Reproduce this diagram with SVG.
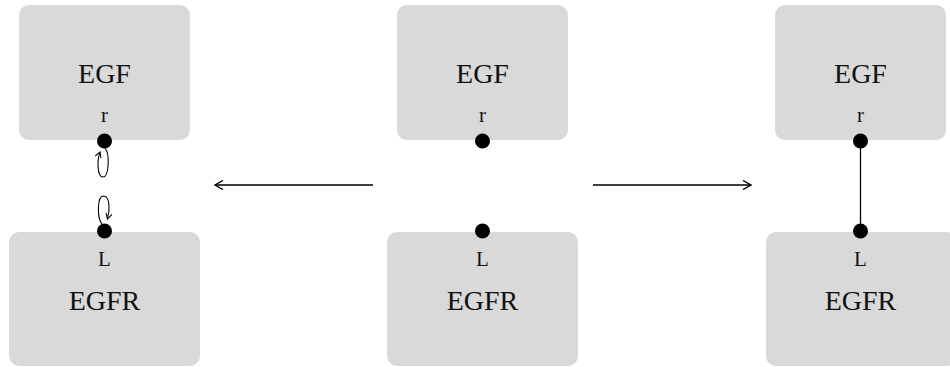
<svg xmlns="http://www.w3.org/2000/svg" width="950" height="367" viewBox="0 0 950 367">
  <defs>
    <style>
      .box { fill: #d9d9d9; }
      .name { font-family: "Liberation Serif", "DejaVu Serif", serif; font-size: 28px; fill: #111; text-anchor: middle; }
      .site { font-family: "Liberation Serif", "DejaVu Serif", serif; font-size: 21px; fill: #111; text-anchor: middle; }
      .dot { fill: #000; }
      .edge { fill: none; stroke: #000; stroke-width: 1.3; }
      .loop { fill: none; stroke: #000; stroke-width: 1.1; }
    </style>
    <marker id="chev" viewBox="0 0 10 10" refX="9" refY="5" markerWidth="10" markerHeight="10" markerUnits="userSpaceOnUse" orient="auto">
      <path d="M1,0.5 L9,5 L1,9.5" fill="none" stroke="#000" stroke-width="1.4"/>
    </marker>
    <marker id="chevs" viewBox="0 0 10 10" refX="9" refY="5" markerWidth="7" markerHeight="7" markerUnits="userSpaceOnUse" orient="auto">
      <path d="M1,0.5 L9,5 L1,9.5" fill="none" stroke="#000" stroke-width="1.5"/>
    </marker>
  </defs>

  <!-- left state: sites about to bind -->
  <g id="egf-left">
    <rect class="box" x="19" y="5" width="171" height="135" rx="10"/>
    <text class="name" x="104.5" y="83">EGF</text>
    <text class="site" x="104.5" y="122">r</text>
  </g>
  <g id="egfr-left">
    <rect class="box" x="9" y="232" width="191" height="134" rx="10"/>
    <text class="site" x="104.5" y="266">L</text>
    <text class="name" x="104.5" y="310">EGFR</text>
  </g>

  <!-- middle state: free sites -->
  <g id="egf-mid">
    <rect class="box" x="397" y="5" width="171" height="135" rx="10"/>
    <text class="name" x="482.5" y="83">EGF</text>
    <text class="site" x="482.5" y="122">r</text>
  </g>
  <g id="egfr-mid">
    <rect class="box" x="387" y="232" width="191" height="134" rx="10"/>
    <text class="site" x="482.5" y="266">L</text>
    <text class="name" x="482.5" y="310">EGFR</text>
  </g>

  <!-- right state: bound sites -->
  <g id="egf-right">
    <rect class="box" x="775" y="5" width="171" height="135" rx="10"/>
    <text class="name" x="860.5" y="83">EGF</text>
    <text class="site" x="860.5" y="122">r</text>
  </g>
  <g id="egfr-right">
    <rect class="box" x="766" y="232" width="191" height="134" rx="10"/>
    <text class="site" x="860.5" y="266">L</text>
    <text class="name" x="860.5" y="310">EGFR</text>
  </g>

  <g id="connectors">
    <!-- transitions -->
    <line class="edge" x1="373" y1="185" x2="215" y2="185" marker-end="url(#chev)"/>
    <line class="edge" x1="593" y1="185" x2="751" y2="185" marker-end="url(#chev)"/>
    <!-- bond -->
    <line class="edge" x1="860.5" y1="141" x2="860.5" y2="231"/>
    <!-- self loops on the open sites -->
    <path class="loop" d="M105,148 C110,154 109,177 103,177 C97,177 97,160 100,152" marker-end="url(#chevs)"/>
    <path class="loop" d="M102,224 C97,218 97,196 103.5,196 C110,196 110,210 107.5,219" marker-end="url(#chevs)"/>
  </g>

  <!-- binding sites -->
  <g id="sites">
    <circle class="dot" cx="104.5" cy="141" r="7.5"/>
    <circle class="dot" cx="104.5" cy="231" r="7.5"/>
    <circle class="dot" cx="482.5" cy="141" r="7.5"/>
    <circle class="dot" cx="482.5" cy="231" r="7.5"/>
    <circle class="dot" cx="860.5" cy="141" r="7.5"/>
    <circle class="dot" cx="860.5" cy="231" r="7.5"/>
  </g>
</svg>
